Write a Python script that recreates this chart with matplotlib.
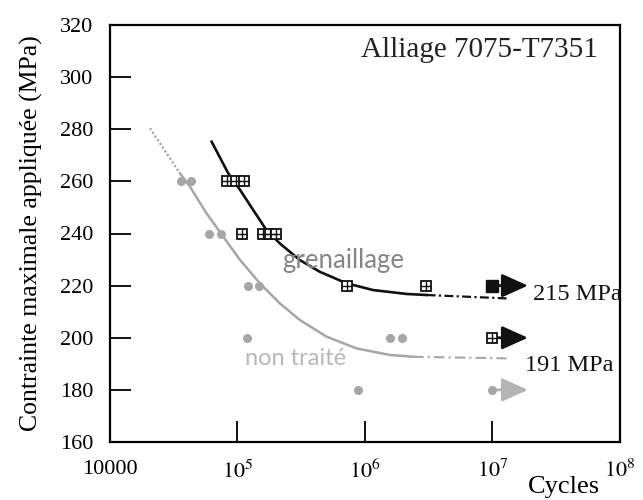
import matplotlib

matplotlib.use("Agg")
import matplotlib.pyplot as plt

# --- data ----------------------------------------------------------------
# non traité (untreated): grey discs
raw_cycles = [3.6e4, 4.3e4, 6.0e4, 7.4e4, 1.2e5, 1.48e5, 1.18e5, 1.57e6, 1.95e6, 8.9e5]
raw_stress = [260, 260, 240, 240, 220, 220, 200, 200, 200, 180]
raw_runout_cycles = [1e7]
raw_runout_stress = [180]

# grenaillage (shot peened): crossed squares
shot_cycles = [8.3e4, 9.7e4, 1.13e5, 1.08e5, 1.6e5, 1.79e5, 2.02e5, 7.3e5, 3.0e6]
shot_stress = [260, 260, 260, 240, 240, 240, 240, 220, 220]
shot_runout_cycles = [1e7, 1e7]
shot_runout_stress = [220, 200]

# trend curves
shot_fit_cycles = [6.28e4, 8.47e4, 1.05e5, 1.33e5, 1.69e5, 2.15e5, 3.09e5,
                   4.43e5, 7.17e5, 1.16e6, 2.12e6, 3.05e6]
shot_fit_stress = [275.2, 263.1, 256.7, 249.0, 241.3, 236.2, 229.8,
                   225.3, 220.9, 218.3, 216.8, 216.4]
shot_tail_cycles = [3.05e6, 1.29e7]
shot_tail_stress = [216.4, 215.1]

raw_lead_cycles = [2.06e4, 3.54e4]
raw_lead_stress = [280.4, 263.1]
raw_fit_cycles = [3.54e4, 4.24e4, 5.73e4, 7.74e4, 1.05e5, 1.5e5, 2.15e5,
                  3.09e5, 5.01e5, 8.61e5, 1.57e6, 2.39e6]
raw_fit_stress = [263.1, 258.0, 247.7, 238.8, 229.8, 220.9, 213.2,
                  206.8, 200.4, 195.9, 193.4, 192.7]
raw_tail_cycles = [2.39e6, 1.29e7]
raw_tail_stress = [192.7, 192.1]

arrow_tip = 1.9e7

x_ticks = [1e4, 1e5, 1e6, 1e7, 1e8]
x_labels = ["10000", "$10^5$", "$10^6$", "$10^7$", "$10^8$"]
y_ticks = [160, 180, 200, 220, 240, 260, 280, 300, 320]

plt.rcParams["font.family"] = "Liberation Serif"
plt.rcParams["mathtext.fontset"] = "stix"

GREY = "#a6a6a6"
BLACK = "#111111"

fig = plt.figure(figsize=(6.43, 5.0), dpi=100)
ax = fig.add_axes([0.171, 0.116, 0.793, 0.834])

# curves
ax.plot(shot_fit_cycles, shot_fit_stress, color=BLACK, lw=1.9, zorder=2)
ax.plot(shot_tail_cycles, shot_tail_stress, color=BLACK, lw=1.6, ls=(0, (4, 1.5, 1, 1.5)), zorder=2)
ax.plot(raw_lead_cycles, raw_lead_stress, color=GREY, lw=1.6, ls=(0, (1, 1)), zorder=2)
ax.plot(raw_fit_cycles, raw_fit_stress, color=GREY, lw=1.8, zorder=2)
ax.plot(raw_tail_cycles, raw_tail_stress, color=GREY, lw=1.5, ls=(0, (5, 2, 1, 2)), zorder=2)

# runout arrows
for c, s in zip(shot_runout_cycles, shot_runout_stress):
    ax.annotate("", xy=(arrow_tip, s), xytext=(c, s),
                arrowprops=dict(arrowstyle="-|>,head_length=1.0,head_width=0.45",
                                mutation_scale=16, lw=2, color=BLACK, shrinkA=0, shrinkB=0),
                zorder=3)
for c, s in zip(raw_runout_cycles, raw_runout_stress):
    ax.annotate("", xy=(arrow_tip, s), xytext=(c, s),
                arrowprops=dict(arrowstyle="-|>,head_length=1.0,head_width=0.45",
                                mutation_scale=16, lw=2, color="#b4b4b4", shrinkA=0, shrinkB=0),
                zorder=3)

# points
ax.plot(raw_cycles, raw_stress, "o", ms=6.5, color=GREY, mec="none", zorder=4)
ax.plot(raw_runout_cycles, raw_runout_stress, "o", ms=6.5, color=GREY, mec="none", zorder=4)
ax.plot(shot_cycles, shot_stress, "s", ms=7.2, mfc="white", mec=BLACK, mew=1.3, zorder=4)
ax.plot(shot_cycles, shot_stress, "+", ms=7.2, color=BLACK, mew=1.0, zorder=5)
ax.plot(shot_runout_cycles[1:], shot_runout_stress[1:], "s", ms=7.2, mfc="white", mec=BLACK, mew=1.3, zorder=4)
ax.plot(shot_runout_cycles[1:], shot_runout_stress[1:], "+", ms=7.2, color=BLACK, mew=1.0, zorder=5)
ax.plot(shot_runout_cycles[:1], shot_runout_stress[:1], "s", ms=8.5, color=BLACK, zorder=4)

ax.set_xscale("log")
ax.set_xlim(1e4, 1e8)
ax.set_ylim(160, 320)
ax.set_xticks(x_ticks)
ax.set_xticklabels(x_labels)
ax.xaxis.set_minor_locator(matplotlib.ticker.NullLocator())
ax.set_yticks(y_ticks)
ax.tick_params(direction="in", length=15, width=1.3, labelsize=16)
ax.tick_params(axis="y", pad=12)
ax.tick_params(axis="x", pad=13)
for sp in ax.spines.values():
    sp.set_linewidth(1.6)

ax.set_ylabel("Contrainte maximale appliquée (MPa)", fontsize=18.5, labelpad=12)
ax.text(0.957, 0.923, "Alliage 7075-T7351", transform=ax.transAxes,
        ha="right", va="baseline", fontsize=21, color="#222222")
ax.text(2.1e7, 214.4, "215 MPa", ha="left", va="baseline", fontsize=17.5, color=BLACK)
ax.text(1.8e7, 187.4, "191 MPa", ha="left", va="baseline", fontsize=17.5, color=BLACK)
ax.text(2.24e5, 226.7, "grenaillage", ha="left", va="baseline", fontsize=18.5,
        family="Lato", color="#858585")
ax.text(1.14e5, 189.7, "non traité", ha="left", va="baseline", fontsize=17,
        family="Lato", color="#b8b8b8")
fig.text(600 / 643, 1 - 498 / 500, "Cycles", ha="right", va="bottom", fontsize=19)

fig.savefig("out.png", dpi=100)
